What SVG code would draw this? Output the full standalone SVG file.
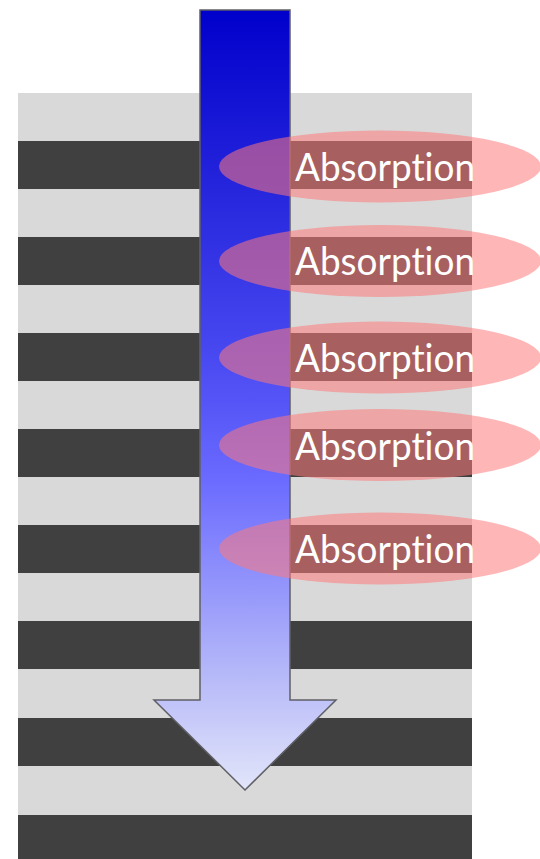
<svg xmlns="http://www.w3.org/2000/svg" width="540" height="859" viewBox="0 0 540 859">
<style>
.bg{fill:#d9d9d9}
.band{fill:#404040}
.ell{fill:#ff7979;fill-opacity:0.545}
.lbl{font-family:Lato,"Open Sans","Liberation Sans",sans-serif;font-size:39px;fill:#ffffff;font-variant-ligatures:none;font-feature-settings:"liga" 0,"clig" 0,"dlig" 0}
</style>
<defs>
<linearGradient id="arrowGrad" x1="0" y1="10" x2="0" y2="790" gradientUnits="userSpaceOnUse">
<stop offset="0" stop-color="#0000cc"/>
<stop offset="0.22" stop-color="#2424dc"/>
<stop offset="0.45" stop-color="#4a4af2"/>
<stop offset="0.6" stop-color="#6a6aff"/>
<stop offset="0.85" stop-color="#b5b8f8"/>
<stop offset="1" stop-color="#e2e5f9"/>
</linearGradient>
</defs>
<g id="layers">
<rect class="bg" x="18" y="93" width="454" height="766"/>
<rect class="band" x="18" y="141" width="454" height="48"/>
<rect class="band" x="18" y="237" width="454" height="48"/>
<rect class="band" x="18" y="333" width="454" height="48"/>
<rect class="band" x="18" y="429" width="454" height="48"/>
<rect class="band" x="18" y="525" width="454" height="48"/>
<rect class="band" x="18" y="621" width="454" height="48"/>
<rect class="band" x="18" y="718" width="454" height="48"/>
<rect class="band" x="18" y="815" width="454" height="44"/>
</g>
<g id="arrow">
<path d="M200,10 L290,10 L290,700 L336,700 L245,790 L154,700 L200,700 Z" fill="url(#arrowGrad)" stroke="#5f5f66" stroke-width="1.5" stroke-linejoin="miter"/>
</g>
<g id="absorption1">
<ellipse class="ell" cx="380" cy="166.5" rx="161" ry="36"/>
<text class="lbl" x="295" y="181" textLength="180" lengthAdjust="spacingAndGlyphs">Absorption</text>
</g>
<g id="absorption2">
<ellipse class="ell" cx="380" cy="261" rx="161" ry="36"/>
<text class="lbl" x="295" y="275" textLength="180" lengthAdjust="spacingAndGlyphs">Absorption</text>
</g>
<g id="absorption3">
<ellipse class="ell" cx="380" cy="357.5" rx="161" ry="36"/>
<text class="lbl" x="295" y="372" textLength="180" lengthAdjust="spacingAndGlyphs">Absorption</text>
</g>
<g id="absorption4">
<ellipse class="ell" cx="380" cy="445" rx="161" ry="36"/>
<text class="lbl" x="295" y="460" textLength="180" lengthAdjust="spacingAndGlyphs">Absorption</text>
</g>
<g id="absorption5">
<ellipse class="ell" cx="380" cy="548.5" rx="161" ry="36"/>
<text class="lbl" x="295" y="563" textLength="180" lengthAdjust="spacingAndGlyphs">Absorption</text>
</g>
<g id="connectors"></g>
</svg>
